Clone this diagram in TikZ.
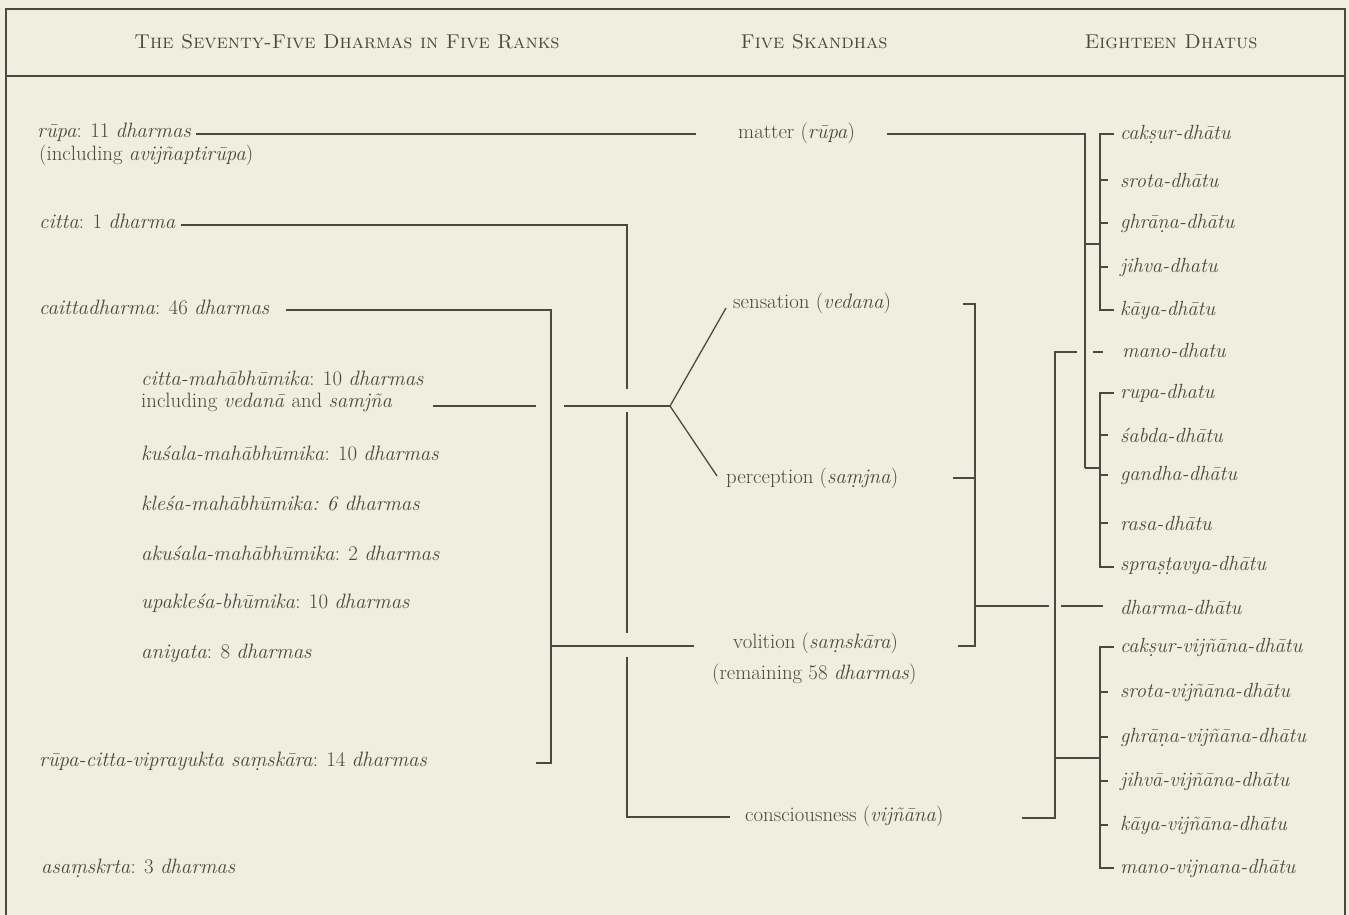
\documentclass[tikz,border=0pt]{standalone}
\usepackage{fontspec}
\definecolor{bgc}{HTML}{EFEFDF}
\definecolor{ink}{HTML}{4A4A42}
\definecolor{txtc}{HTML}{48483F}
\begin{document}
\begin{tikzpicture}[x=1pt,y=-1pt,
  lbl/.style={anchor=west, inner sep=0pt, text=txtc, font=\fontsize{20.8}{24}\selectfont},
  dh/.style={lbl, font=\fontsize{20.5}{24}\selectfont\itshape},
  hdr/.style={anchor=center, inner sep=0pt, text=txtc, font=\fontsize{20}{24}\selectfont\scshape},
  ln/.style={draw=ink, line width=1.3pt},
  frame/.style={draw=ink, line width=1.6pt}]
\fill[bgc] (0,0) rectangle (1349,915);
\useasboundingbox (0,0) rectangle (1349,915);
% frame
\draw[frame] (6,915) -- (6,9) -- (1345,9) -- (1345,915);
\draw[frame] (6,76) -- (1345,76);
% headers
\node[hdr] (h1) at (347,42) {The Seventy-Five Dharmas in Five Ranks};
\node[hdr] (h2) at (814,42) {Five Skandhas};
\node[hdr] (h3) at (1171,42) {Eighteen Dhatus};
% left column
\node[lbl] (rupa) at (37,132) {\textit{rūpa}: 11 \textit{dharmas}};
\node[lbl] (rupa2) at (39,155) {(including \textit{avijñaptirūpa})};
\node[lbl] (citta) at (39,221) {\textit{citta}: 1 \textit{dharma}};
\node[lbl] (caitta) at (39,307) {\textit{caittadharma}: 46 \textit{dharmas}};
\node[lbl] (cmb) at (141,378) {\textit{citta-mahābhūmika}: 10 \textit{dharmas}};
\node[lbl] (cmb2) at (141,402) {including \textit{vedanā} and \textit{samjña}};
\node[lbl] (kus) at (141,453) {\textit{kuśala-mahābhūmika}: 10 \textit{dharmas}};
\node[lbl] (kle) at (141,503) {\textit{kleśa-mahābhūmika:} \textit{6 dharmas}};
\node[lbl] (akus) at (141,553) {\textit{akuśala-mahābhūmika}: 2 \textit{dharmas}};
\node[lbl] (upa) at (141,603) {\textit{upakleśa-bhūmika}: 10 \textit{dharmas}};
\node[lbl] (ani) at (141,653) {\textit{aniyata}: 8 \textit{dharmas}};
\node[lbl] (rcv) at (39,761) {\textit{rūpa-citta-viprayukta saṃskāra}: 14 \textit{dharmas}};
\node[lbl] (asam) at (41,868) {\textit{asaṃskrta}: 3 \textit{dharmas}};
% middle column
\node[lbl] (matter) at (738,133) {matter (\textit{rūpa})};
\node[lbl] (sens) at (733,303) {sensation (\textit{vedana})};
\node[lbl] (perc) at (726,478) {perception (\textit{saṃjna})};
\node[lbl] (voli) at (733,643) {volition (\textit{saṃskāra})};
\node[lbl] (voli2) at (712,674) {(remaining 58 \textit{dharmas})};
\node[lbl] (cons) at (745,816) {consciousness (\textit{vijñāna})};
% right column
\node[dh] (d1) at (1120,134) {cakṣur-dhātu};
\node[dh] (d2) at (1120,180) {srota-dhātu};
\node[dh] (d3) at (1120,223) {ghrāṇa-dhātu};
\node[dh] (d4) at (1120,267) {jihva-dhatu};
\node[dh] (d5) at (1120,310) {kāya-dhātu};
\node[dh] (d6) at (1122,350) {mano-dhatu};
\node[dh] (d7) at (1120,393) {rupa-dhatu};
\node[dh] (d8) at (1120,435) {śabda-dhātu};
\node[dh] (d9) at (1120,475) {gandha-dhātu};
\node[dh] (d10) at (1120,523) {rasa-dhātu};
\node[dh] (d11) at (1120,565) {spraṣṭavya-dhātu};
\node[dh] (d12) at (1120,607) {dharma-dhātu};
\node[dh] (v1) at (1120,647) {cakṣur-vijñāna-dhātu};
\node[dh] (v2) at (1120,692) {srota-vijñāna-dhātu};
\node[dh] (v3) at (1120,737) {ghrāṇa-vijñāna-dhātu};
\node[dh] (v4) at (1120,781) {jihvā-vijñāna-dhātu};
\node[dh] (v5) at (1120,825) {kāya-vijñāna-dhātu};
\node[dh] (v6) at (1120,868) {mano-vijnana-dhātu};
% junction coordinates
\coordinate (fork) at (670,406);
\coordinate (sensIn) at (726,308);
\coordinate (percIn) at (717,476);
% ---- connectors left -> middle
% rupa -> matter
\draw[ln] (196,134) -- (696,134);
% citta -> consciousness (broken where it passes under lines)
\draw[ln] (181,225) -- (627,225) -- (627,389);
\draw[ln] (627,412) -- (627,633);
\draw[ln] (627,657) -- (627,817) -- (730,817);
% caittadharma bracket -> volition
\draw[ln] (286,310) -- (551,310) -- (551,763) -- (536,763);
\draw[ln] (551,646) -- (694,646);
% citta-mahabhumika -> sensation / perception
\draw[ln] (433,406) -- (536,406);
\draw[ln] (564,406) -- (fork);
\draw[ln] (fork) -- (sensIn);
\draw[ln] (fork) -- (percIn);
% ---- middle -> right
% matter -> rupa dhatus
\draw[ln] (887,134) -- (1085,134) -- (1085,468);
\draw[ln] (1085,244) -- (1100,244);
\draw[ln] (1085,468) -- (1100,468);
% bracket 1: five sense organs
\draw[ln] (1114,134) -- (1100,134) -- (1100,310) -- (1114,310);
\foreach \yy in {180,223,267} \draw[ln] (1100,\yy) -- (1108,\yy);
% bracket 2: five sense objects
\draw[ln] (1114,393) -- (1100,393) -- (1100,567) -- (1114,567);
\foreach \yy in {435,475,523} \draw[ln] (1100,\yy) -- (1108,\yy);
% sensation / perception / volition -> dharma-dhatu
\draw[ln] (963,304) -- (975,304) -- (975,646) -- (958,646);
\draw[ln] (953,478) -- (975,478);
\draw[ln] (975,606) -- (1049,606);
\draw[ln] (1061,606) -- (1103,606);
% consciousness -> mano-dhatu and vijnana-dhatus
\draw[ln] (1022,818) -- (1055,818) -- (1055,352) -- (1077,352);
\draw[ln] (1093,352) -- (1103,352);
\draw[ln] (1055,758) -- (1100,758);
\draw[ln] (1114,647) -- (1100,647) -- (1100,868) -- (1114,868);
\foreach \yy in {692,737,781,825} \draw[ln] (1100,\yy) -- (1108,\yy);
\end{tikzpicture}
\end{document}
